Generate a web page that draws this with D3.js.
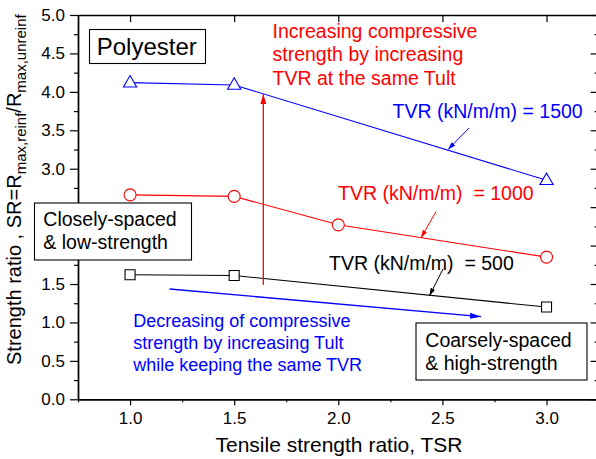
<!DOCTYPE html>
<html>
<head>
<meta charset="utf-8">
<script src="https://cdn.jsdelivr.net/npm/d3@7"></script>
<style>
  html, body { margin: 0; padding: 0; background: #fff; }
  svg { display: block; font-family: "Liberation Sans", Arial, sans-serif; }
</style>
</head>
<body>
<svg id="chart" width="596" height="459"></svg>
<script>
// Tensile strength ratio (TSR) at each test point, per TVR series
const tsr500 = [1.0, 1.5, 3.0];
const sr500 = [1.62, 1.61, 1.20];
const tsr1000 = [1.0, 1.5, 2.0, 3.0];
const sr1000 = [2.66, 2.64, 2.27, 1.85];
const tsr1500 = [1.0, 1.5, 3.0];
const sr1500 = [4.12, 4.09, 2.85];

const xTicks = [1.0, 1.5, 2.0, 2.5, 3.0];
const yTicks = [0.0, 0.5, 1.0, 1.5, 2.0, 2.5, 3.0, 3.5, 4.0, 4.5, 5.0];

const svg = d3.select("#chart");
const x = d3.scaleLinear().domain([0.75, 3.25]).range([78, 598.6]);
const y = d3.scaleLinear().domain([0, 5]).range([399.3, 15]);
const fmt = d3.format(".1f");

// the "Closely-spaced" label box sits over the left axis, between these SR values
const boxSpan = [1.82, 2.55];

const gAxes = svg.append("g");

const minorX = d3.range(0.75, 3.26, 0.25).filter(v => !xTicks.some(t => Math.abs(t - v) < 1e-6));
const minorY = d3.range(0.25, 5, 0.5);

// bottom axis: outward ticks, minor ticks between majors
const bottom = gAxes.append("g").attr("transform", `translate(0,${y(0)})`)
  .call(d3.axisBottom(x).tickValues(xTicks).tickFormat(fmt).tickSize(6).tickSizeOuter(0).tickPadding(3));
gAxes.append("g").attr("transform", `translate(0,${y(0)})`)
  .call(d3.axisBottom(x).tickValues(minorX).tickFormat("").tickSize(3).tickSizeOuter(0));

// left axis; labels under the white label box are not shown
const left = gAxes.append("g").attr("transform", `translate(${x(0.75)},0)`)
  .call(d3.axisLeft(y).tickValues(yTicks)
    .tickFormat(v => (v > boxSpan[0] && v < boxSpan[1]) ? "" : fmt(v))
    .tickSize(8).tickSizeOuter(0).tickPadding(5));
gAxes.append("g").attr("transform", `translate(${x(0.75)},0)`)
  .call(d3.axisLeft(y).tickValues(minorY).tickFormat("").tickSize(4).tickSizeOuter(0));

// top and right mirror axes with inward ticks
gAxes.append("g").attr("transform", `translate(0,${y(5)})`)
  .call(d3.axisBottom(x).tickValues(xTicks).tickFormat("").tickSize(7).tickSizeOuter(0));
gAxes.append("g").attr("transform", `translate(${x(3.25)},0)`)
  .call(d3.axisLeft(y).tickValues(yTicks).tickFormat("").tickSize(8).tickSizeOuter(0));
gAxes.append("g").attr("transform", `translate(${x(3.25)},0)`)
  .call(d3.axisLeft(y).tickValues(minorY).tickFormat("").tickSize(4).tickSizeOuter(0));

gAxes.selectAll(".domain").attr("stroke", "#000").attr("stroke-width", 1.4);
gAxes.selectAll(".tick line").attr("stroke", "#000").attr("stroke-width", 1.2);
gAxes.selectAll(".tick text").attr("font-size", 17).attr("fill", "#000")
  .attr("font-family", "'Liberation Sans', Arial, sans-serif");
gAxes.selectAll(".tick text").filter(function () { return this.textContent === ""; }).remove();
bottom.selectAll(".tick text").attr("dy", "0.95em");

// axis titles
svg.append("text").attr("x", 339).attr("y", 451.5).attr("text-anchor", "middle")
  .attr("font-size", 21).text("Tensile strength ratio, TSR");

const yl = svg.append("text").attr("transform", "translate(21,365) rotate(-90)")
  .attr("font-size", 20);
yl.append("tspan").text("Strength ratio , SR=R");
yl.append("tspan").attr("font-size", 15).attr("dy", 5).text("max,reinf");
yl.append("tspan").attr("dy", -5).text("/R");
yl.append("tspan").attr("font-size", 15).attr("dy", 5).text("max,unreinf");

// series lines and hollow markers
const line = d3.line().x(d => x(d[0])).y(d => y(d[1]));
const series = [
  { xs: tsr500, ys: sr500, color: "#000000", shape: "square" },
  { xs: tsr1000, ys: sr1000, color: "#ff0000", shape: "circle" },
  { xs: tsr1500, ys: sr1500, color: "#0000ff", shape: "triangle" }
];
const symbolOf = { square: d3.symbolSquare, circle: d3.symbolCircle, triangle: d3.symbolTriangle };
const sizeOf = { square: 100, circle: 113, triangle: 76 };

series.forEach(s => {
  const pts = s.xs.map((v, i) => [v, s.ys[i]]);
  svg.append("path").datum(pts).attr("d", line)
    .attr("fill", "none").attr("stroke", s.color).attr("stroke-width", 1.1);
});
series.forEach(s => {
  const pts = s.xs.map((v, i) => [v, s.ys[i]]);
  svg.append("g").selectAll("path").data(pts).join("path")
    .attr("transform", d => `translate(${x(d[0])},${y(d[1]) + (s.shape === "triangle" ? 0.5 : 0)})`)
    .attr("d", d3.symbol().type(symbolOf[s.shape]).size(sizeOf[s.shape]))
    .attr("fill", "#fff").attr("stroke", s.color).attr("stroke-width", 1.1);
});

// arrowhead markers
const defs = svg.append("defs");
function head(id, color, len, wid) {
  defs.append("marker").attr("id", id).attr("markerUnits", "userSpaceOnUse")
    .attr("viewBox", `0 0 ${len} ${wid}`).attr("refX", len).attr("refY", wid / 2)
    .attr("markerWidth", len).attr("markerHeight", wid).attr("orient", "auto")
    .append("path").attr("d", `M0,0L${len},${wid / 2}L0,${wid}Z`).attr("fill", color);
}
head("hRed", "#ff0000", 10, 6);
head("hBlue", "#0000ff", 11, 6);
head("hBlueS", "#0000ff", 8, 5);
head("hRedS", "#ff0000", 8, 5);
head("hBlackS", "#000000", 8, 5);

// annotation arrows, in data coordinates [x0, y0, x1, y1]
const arrows = [
  { p: [1.64, 1.49, 1.64, 3.97], color: "#ff0000", head: "hRed", w: 1.3 },
  { p: [1.19, 1.435, 2.685, 1.075], color: "#0000ff", head: "hBlue", w: 1.3 },
  { p: [2.628, 3.53, 2.527, 3.25], color: "#0000ff", head: "hBlueS", w: 1 },
  { p: [2.469, 2.44, 2.397, 2.10], color: "#ff0000", head: "hRedS", w: 1 },
  { p: [2.504, 1.70, 2.437, 1.345], color: "#000000", head: "hBlackS", w: 1 }
];
arrows.forEach(a => {
  svg.append("line").attr("x1", x(a.p[0])).attr("y1", y(a.p[1]))
    .attr("x2", x(a.p[2])).attr("y2", y(a.p[3]))
    .attr("stroke", a.color).attr("stroke-width", a.w).attr("marker-end", `url(#${a.head})`);
});

// text annotations
function block(lines, x0, y0, dy, size, color) {
  lines.forEach((t, i) => {
    svg.append("text").attr("x", x0).attr("y", y0 + i * dy)
      .attr("font-size", size).attr("fill", color).attr("xml:space", "preserve").text(t);
  });
}
block(["Increasing compressive", "strength by increasing", "TVR at the same Tult"], 272.5, 37.5, 23.8, 19.5, "#ff0000");
block(["TVR (kN/m/m) = 1500"], 392.5, 118, 0, 19.5, "#0000ff");
block(["TVR (kN/m/m)  = 1000"], 338, 199.5, 0, 19.5, "#ff0000");
block(["TVR (kN/m/m)  = 500"], 329, 270, 0, 19.5, "#000000");
block(["Decreasing of compressive", "strength by increasing Tult", "while keeping the same TVR"], 133.3, 326.5, 22.2, 18, "#0000ff");

// boxed labels
function box(x0, y0, w, h) {
  svg.append("rect").attr("x", x0).attr("y", y0).attr("width", w).attr("height", h)
    .attr("fill", "#fff").attr("stroke", "#000").attr("stroke-width", 1.1);
}
box(89.5, 29.5, 116, 34);
block(["Polyester"], 96.7, 54.5, 0, 24, "#000");
box(34.5, 203, 157, 57);
block(["Closely-spaced", "& low-strength"], 43.3, 226, 23.3, 19.5, "#000");
box(416, 323, 171, 57);
block(["Coarsely-spaced", "& high-strength"], 425.3, 347.3, 23, 19.5, "#000");
</script>
</body>
</html>
